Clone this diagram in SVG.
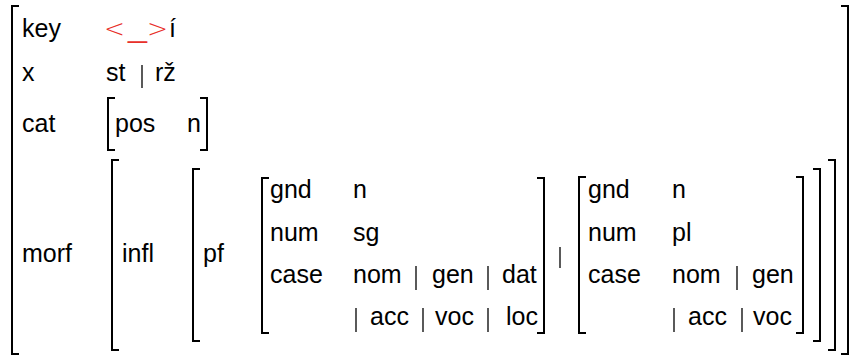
<svg xmlns="http://www.w3.org/2000/svg" width="850" height="355" viewBox="0 0 850 355">
  <style>
    text { font-family: "Liberation Sans", Arial, sans-serif; font-size: 25px; fill: #000; }
    .red { fill: #e8302a; }
    .sym { font-family: "DejaVu Sans", sans-serif; font-weight: 200; font-size: 25px; }
    .br { fill: none; stroke: #000; stroke-width: 2; }
    .bar { stroke: #000; stroke-width: 1.3; }
  </style>
  <rect width="850" height="355" fill="#fff"/>

  <!-- outer matrix -->
  <g id="outer">
    <path class="br" d="M19,6 H12 V354 H19"/>
    <path class="br" d="M841,6 H848 V354 H841"/>
  </g>

  <!-- key row -->
  <g id="row-key">
    <text x="22" y="37">key</text>
    <text y="37"><tspan class="red sym" x="104">&lt;</tspan><tspan class="red" x="128" y="38" textLength="19" lengthAdjust="spacingAndGlyphs">_</tspan><tspan class="red sym" x="147" y="37">&gt;</tspan><tspan x="169">í</tspan></text>
  </g>

  <!-- x row -->
  <g id="row-x">
    <text x="22" y="81">x</text>
    <text x="106" y="81">st</text>
    <line class="bar" x1="142" y1="65" x2="142" y2="88"/>
    <text x="155" y="81">rž</text>
  </g>

  <!-- cat row -->
  <g id="row-cat">
    <text x="22" y="132">cat</text>
    <path class="br" d="M115,98 H108 V150 H115"/>
    <text x="115" y="132">pos</text>
    <text x="187" y="132">n</text>
    <path class="br" d="M200,98 H207 V150 H200"/>
  </g>

  <!-- morf row -->
  <g id="row-morf">
    <text x="22" y="262">morf</text>
    <path class="br" d="M119,160 H112 V350 H119"/>
    <path class="br" d="M828,160 H835 V350 H828"/>
    <text x="122" y="262">infl</text>
    <path class="br" d="M200,169 H193 V341 H200"/>
    <path class="br" d="M813,169 H820 V341 H813"/>
    <text x="203" y="262">pf</text>
  </g>

  <!-- singular paradigm -->
  <g id="pf-sg">
    <path class="br" d="M269,178 H262 V333 H269"/>
    <text x="270" y="198">gnd</text>
    <text x="353" y="198">n</text>
    <text x="270" y="241">num</text>
    <text x="353" y="241">sg</text>
    <text x="270" y="283">case</text>
    <text x="353" y="283">nom</text>
    <line class="bar" x1="416" y1="266" x2="416" y2="290"/>
    <text x="432" y="283">gen</text>
    <line class="bar" x1="488" y1="266" x2="488" y2="290"/>
    <text x="502" y="283">dat</text>
    <line class="bar" x1="356" y1="308" x2="356" y2="332"/>
    <text x="370" y="325">acc</text>
    <line class="bar" x1="423" y1="308" x2="423" y2="332"/>
    <text x="435" y="325">voc</text>
    <line class="bar" x1="488" y1="308" x2="488" y2="332"/>
    <text x="506" y="325">loc</text>
    <path class="br" d="M537,178 H544 V333 H537"/>
  </g>

  <!-- disjunction -->
  <line class="bar" x1="560" y1="247" x2="560" y2="268"/>

  <!-- plural paradigm -->
  <g id="pf-pl">
    <path class="br" d="M586,177 H579 V333 H586"/>
    <text x="588" y="198">gnd</text>
    <text x="672" y="198">n</text>
    <text x="588" y="241">num</text>
    <text x="672" y="241">pl</text>
    <text x="588" y="283">case</text>
    <text x="672" y="283">nom</text>
    <line class="bar" x1="737" y1="266" x2="737" y2="290"/>
    <text x="752" y="283">gen</text>
    <line class="bar" x1="674" y1="308" x2="674" y2="332"/>
    <text x="688" y="325">acc</text>
    <line class="bar" x1="742" y1="308" x2="742" y2="332"/>
    <text x="753" y="325">voc</text>
    <path class="br" d="M796,177 H803 V333 H796"/>
  </g>
</svg>
